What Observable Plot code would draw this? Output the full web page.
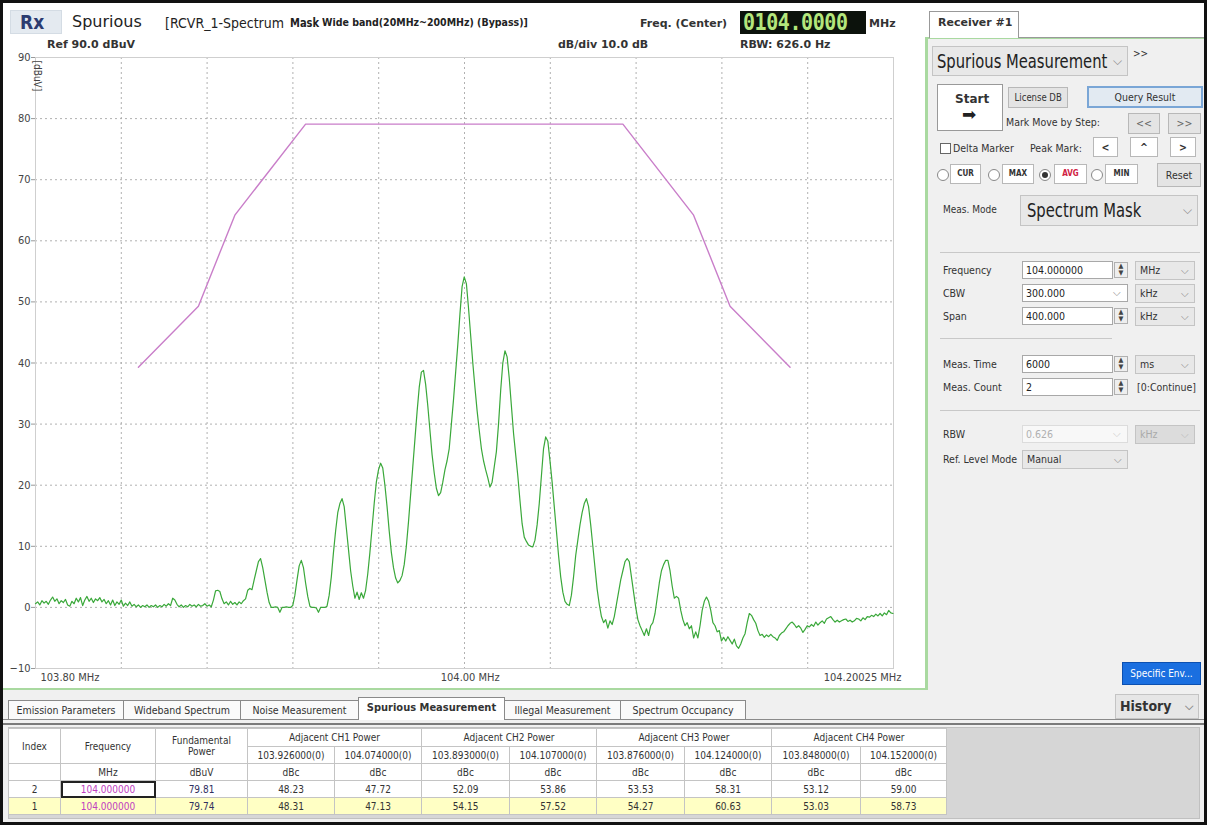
<!DOCTYPE html>
<html><head><meta charset="utf-8">
<script src="https://cdn.jsdelivr.net/npm/d3@7"></script>
<script src="https://cdn.jsdelivr.net/npm/@observablehq/plot@0.6"></script>
<style>
html,body{margin:0;padding:0;}
body{width:1207px;height:825px;position:relative;overflow:hidden;background:#fff;font-family:"DejaVu Sans Condensed","DejaVu Sans","Liberation Sans",sans-serif;color:#222;}
.a{position:absolute;white-space:nowrap;}
.dj{font-family:"DejaVu Sans","Liberation Sans",sans-serif;}
.btn{position:absolute;box-sizing:border-box;border:1px solid #b8b8b8;background:#e4e4e4;font-size:10.5px;text-align:center;color:#333;white-space:nowrap;}
.inp{position:absolute;box-sizing:border-box;border:1px solid #a8a8a8;background:#fff;font-size:10.5px;padding-left:3px;color:#222;white-space:nowrap;}
.dd{position:absolute;box-sizing:border-box;border:1px solid #c4c4c4;background:#e8e8e8;font-size:10.5px;padding-left:4px;color:#333;white-space:nowrap;overflow:hidden;}
.lbl{position:absolute;font-size:10.5px;color:#333;white-space:nowrap;}
.chev{position:absolute;right:5px;color:#888;font-size:10px;}
.spin{position:absolute;box-sizing:border-box;width:14px;border:1px solid #b0b0b0;background:#eee;font-size:7px;line-height:7px;text-align:center;color:#444;}
.sep{position:absolute;height:1px;background:#c8c8c8;}
.tab{position:absolute;top:700px;height:19px;box-sizing:border-box;border:1px solid #8a8a8a;border-bottom:none;background:#fafafa;font-size:10.5px;text-align:center;line-height:18px;color:#333;white-space:nowrap;}
.narrow{display:inline-block;transform-origin:0 50%;}
table{border-collapse:collapse;font-size:10px;}
td{border:1px solid #c4c4c4;text-align:center;padding:0;color:#333;background:#fff;white-space:nowrap;overflow:hidden;}
#frame{position:absolute;left:0;top:0;width:1207px;height:825px;box-sizing:border-box;border:3px solid #111;pointer-events:none;z-index:50;}
</style></head>
<body>
<!-- backgrounds -->
<div class="a" style="left:928px;top:37px;width:277px;height:653px;background:#f0f0f0;"></div>
<div class="a" style="left:0;top:690px;width:1207px;height:135px;background:#f0f0f0;"></div>
<div class="a" style="left:3px;top:688px;width:922px;height:2px;background:#a9d9a0;"></div>
<div class="a" style="left:925px;top:37px;width:3px;height:653px;background:#a9d9a0;"></div>
<div class="a" style="left:925px;top:37px;width:280px;height:2px;background:#a9d9a0;"></div>

<div id="plot" class="a" style="left:0;top:0;"></div>

<!-- header -->
<div class="a" style="left:10px;top:10px;width:52px;height:24px;background:#e4eaf0;border:1px solid #d4dce4;box-sizing:border-box;"></div>
<div class="a" style="left:20px;top:11px;font-size:19px;font-weight:bold;color:#2c3c70;">Rx</div>
<div class="a dj" style="left:72px;top:12px;font-size:16px;color:#222;">Spurious</div>
<div class="a" style="left:165px;top:15px;font-size:14px;color:#222;">[RCVR_1-Spectrum</div>
<div class="a" style="left:290px;top:15px;font-size:13px;color:#222;font-weight:bold;"><span class="narrow" style="transform:scaleX(0.85);">Mask</span></div>
<div class="a dj" style="left:322px;top:16px;font-size:10.5px;color:#222;font-weight:bold;"><span class="narrow" style="transform:scaleX(0.9);">Wide band(20MHz~200MHz) (Bypass)]</span></div>
<div class="a dj" style="left:640px;top:17px;font-size:11px;font-weight:bold;color:#333;">Freq. (Center)</div>
<div class="a" style="left:740px;top:11px;width:126px;height:23px;background:#0c120c;"></div>
<div class="a" style="left:743px;top:9px;font-family:'DejaVu Sans Mono',monospace;font-size:23px;font-weight:bold;color:#b4e67c;"><span class="narrow" style="transform:scaleX(0.87);letter-spacing:-0.5px;">0104.0000</span></div>
<div class="a dj" style="left:869px;top:17px;font-size:11px;font-weight:bold;color:#333;">MHz</div>
<div class="a dj" style="left:47px;top:38px;font-size:11px;font-weight:bold;color:#333;">Ref 90.0 dBuV</div>
<div class="a dj" style="left:558px;top:38px;font-size:11px;font-weight:bold;color:#333;">dB/div 10.0 dB</div>
<div class="a dj" style="left:740px;top:38px;font-size:11px;font-weight:bold;color:#333;">RBW: 626.0 Hz</div>

<!-- right panel -->
<div class="a" style="left:929px;top:11px;width:90px;height:27px;box-sizing:border-box;border:1px solid #999;border-bottom:none;background:#fff;"></div>
<div class="a dj" style="left:938px;top:16px;font-size:11px;font-weight:bold;color:#333;">Receiver #1</div>
<div class="a" style="left:1019px;top:37px;width:186px;height:1px;background:#999;"></div>

<div class="dd" style="left:932px;top:46px;width:196px;height:30px;font-size:20px;line-height:28px;color:#222;"><span class="narrow" style="transform:scaleX(0.82);">Spurious Measurement</span><span class="chev" style="top:0px;font-size:12px;">&#x2335;</span></div>
<div class="lbl" style="left:1133px;top:48px;font-size:10px;">&gt;&gt;</div>

<div class="btn" style="left:937px;top:84px;width:66px;height:47px;background:#fff;border-color:#999;"></div>
<div class="a dj" style="left:955px;top:92px;font-size:12px;font-weight:bold;color:#333;">Start</div>
<div class="a dj" style="left:962px;top:104px;font-size:17px;color:#222;">&#x27A1;</div>
<div class="btn" style="left:1008px;top:87px;width:60px;height:21px;line-height:19px;"><span class="narrow" style="transform:scaleX(0.9);transform-origin:50% 50%;">License DB</span></div>
<div class="btn" style="left:1087px;top:86px;width:116px;height:22px;line-height:18px;background:#e2eaf2;border:2px solid #7aa6d6;">Query Result</div>
<div class="lbl" style="left:1006px;top:116px;">Mark Move by Step:</div>
<div class="btn" style="left:1128px;top:113px;width:32px;height:21px;line-height:19px;color:#666;">&lt;&lt;</div>
<div class="btn" style="left:1168px;top:113px;width:33px;height:21px;line-height:19px;color:#666;">&gt;&gt;</div>

<div class="a" style="left:940px;top:143px;width:11px;height:11px;border:1px solid #666;background:#fff;box-sizing:border-box;"></div>
<div class="lbl" style="left:953px;top:142px;">Delta Marker</div>
<div class="lbl" style="left:1030px;top:142px;">Peak Mark:</div>
<div class="btn" style="left:1093px;top:137px;width:25px;height:20px;line-height:18px;background:#fff;font-weight:bold;">&lt;</div>
<div class="btn" style="left:1130px;top:137px;width:28px;height:20px;line-height:18px;background:#fff;font-weight:bold;">^</div>
<div class="btn" style="left:1170px;top:137px;width:26px;height:20px;line-height:18px;background:#fff;font-weight:bold;">&gt;</div>

<div class="a" style="left:937px;top:169px;width:12px;height:12px;border:1px solid #888;border-radius:50%;background:#fff;box-sizing:border-box;"></div>
<div class="btn" style="left:950px;top:164px;width:31px;height:20px;line-height:18px;background:#fff;font-size:8px;font-weight:bold;">CUR</div>
<div class="a" style="left:988px;top:169px;width:12px;height:12px;border:1px solid #888;border-radius:50%;background:#fff;box-sizing:border-box;"></div>
<div class="btn" style="left:1002px;top:164px;width:32px;height:20px;line-height:18px;background:#fff;font-size:8px;font-weight:bold;">MAX</div>
<div class="a" style="left:1039px;top:169px;width:12px;height:12px;border:1px solid #888;border-radius:50%;background:#fff;box-sizing:border-box;"></div>
<div class="a" style="left:1042px;top:172px;width:6px;height:6px;border-radius:50%;background:#333;"></div>
<div class="btn" style="left:1054px;top:164px;width:33px;height:20px;line-height:18px;background:#fff;font-size:8px;font-weight:bold;color:#d02040;">AVG</div>
<div class="a" style="left:1091px;top:169px;width:12px;height:12px;border:1px solid #888;border-radius:50%;background:#fff;box-sizing:border-box;"></div>
<div class="btn" style="left:1105px;top:164px;width:33px;height:20px;line-height:18px;background:#fff;font-size:8px;font-weight:bold;">MIN</div>
<div class="btn" style="left:1157px;top:163px;width:44px;height:24px;line-height:22px;">Reset</div>

<div class="lbl" style="left:943px;top:204px;font-size:10px;">Meas. Mode</div>
<div class="dd" style="left:1020px;top:195px;width:178px;height:31px;font-size:20px;line-height:29px;color:#222;padding-left:6px;"><span class="narrow" style="transform:scaleX(0.82);">Spectrum Mask</span><span class="chev" style="top:0px;font-size:12px;">&#x2335;</span></div>
<div class="sep" style="left:940px;top:252px;width:260px;"></div>

<div class="lbl" style="left:943px;top:264px;">Frequency</div>
<div class="inp" style="left:1022px;top:261px;width:91px;height:18px;line-height:16px;">104.000000</div>
<div class="spin" style="left:1114px;top:262px;height:16px;">&#9650;<br>&#9660;</div>
<div class="dd" style="left:1135px;top:261px;width:60px;height:19px;line-height:17px;">MHz<span class="chev">&#x2335;</span></div>
<div class="lbl" style="left:943px;top:287px;">CBW</div>
<div class="inp" style="left:1022px;top:284px;width:106px;height:18px;line-height:16px;">300.000<span class="chev" style="right:6px;">&#x2335;</span></div>
<div class="dd" style="left:1135px;top:284px;width:60px;height:19px;line-height:17px;">kHz<span class="chev">&#x2335;</span></div>
<div class="lbl" style="left:943px;top:310px;">Span</div>
<div class="inp" style="left:1022px;top:307px;width:91px;height:18px;line-height:16px;">400.000</div>
<div class="spin" style="left:1114px;top:308px;height:16px;">&#9650;<br>&#9660;</div>
<div class="dd" style="left:1135px;top:307px;width:60px;height:19px;line-height:17px;">kHz<span class="chev">&#x2335;</span></div>
<div class="sep" style="left:940px;top:338px;width:172px;"></div>

<div class="lbl" style="left:943px;top:358px;">Meas. Time</div>
<div class="inp" style="left:1022px;top:355px;width:91px;height:18px;line-height:16px;">6000</div>
<div class="spin" style="left:1114px;top:356px;height:16px;">&#9650;<br>&#9660;</div>
<div class="dd" style="left:1135px;top:355px;width:60px;height:19px;line-height:17px;">ms<span class="chev">&#x2335;</span></div>
<div class="lbl" style="left:943px;top:381px;">Meas. Count</div>
<div class="inp" style="left:1022px;top:378px;width:91px;height:18px;line-height:16px;">2</div>
<div class="spin" style="left:1114px;top:379px;height:16px;">&#9650;<br>&#9660;</div>
<div class="lbl" style="left:1137px;top:381px;">[0:Continue]</div>
<div class="sep" style="left:940px;top:410px;width:260px;"></div>

<div class="lbl" style="left:943px;top:428px;">RBW</div>
<div class="inp" style="left:1022px;top:425px;width:106px;height:18px;line-height:16px;color:#b0b0b0;border-color:#dcdcdc;background:#f8f8f8;">0.626<span class="chev" style="right:6px;color:#ccc;">&#x2335;</span></div>
<div class="dd" style="left:1135px;top:425px;width:60px;height:19px;line-height:17px;color:#aaa;background:#dcdcdc;">kHz<span class="chev" style="color:#bbb;">&#x2335;</span></div>
<div class="lbl" style="left:943px;top:453px;">Ref. Level Mode</div>
<div class="dd" style="left:1022px;top:450px;width:106px;height:19px;line-height:17px;">Manual<span class="chev">&#x2335;</span></div>

<div class="btn" style="left:1122px;top:662px;width:79px;height:23px;line-height:21px;background:#1a6fe0;border-color:#0c50b0;color:#fff;font-size:10px;">Specific Env...</div>

<!-- bottom tabs -->
<div class="tab" style="left:8px;width:116px;">Emission Parameters</div>
<div class="tab" style="left:123px;width:118px;">Wideband Spectrum</div>
<div class="tab" style="left:240px;width:119px;">Noise Measurement</div>
<div class="tab" style="left:358px;top:697px;height:23px;width:147px;background:#fff;font-weight:bold;line-height:20px;font-size:11px;">Spurious Measurement</div>
<div class="tab" style="left:504px;width:117px;">Illegal Measurement</div>
<div class="tab" style="left:620px;width:126px;">Spectrum Occupancy</div>
<div class="a" style="left:3px;top:719px;width:355px;height:1px;background:#8a8a8a;"></div>
<div class="a" style="left:505px;top:719px;width:699px;height:1px;background:#8a8a8a;"></div>
<div class="a" style="left:3px;top:723px;width:1201px;height:2px;background:#7a7a7a;"></div>
<div class="dd" style="left:1115px;top:694px;width:84px;height:25px;line-height:23px;font-size:14px;font-weight:bold;background:#e6e6e6;">History<span class="chev" style="font-size:11px;">&#x2335;</span></div>

<!-- table -->
<div class="a" style="left:8px;top:727px;width:1192px;height:92px;background:#d6d6d6;border:1px solid #c0c0c0;box-sizing:border-box;"></div>
<div id="tbl" class="a" style="left:8px;top:728px;"></div>

<div id="frame"></div>

<script>
// ---------------- data ----------------
const yTicks = [-10, 0, 10, 20, 30, 40, 50, 60, 70, 80, 90];
const xGridTicks = [103.8, 103.840025, 103.88005, 103.920075, 103.9601, 104.000125, 104.04015, 104.080175, 104.1202, 104.160225, 104.20025];
const xTickValues = [103.8, 104.0, 104.20025];
const xTickLabels = ["103.80 MHz", "104.00 MHz", "104.20025 MHz"];

// spectrum mask (MHz, dBuV)
const maskFreq  = [103.848, 103.876, 103.893, 103.926, 104.074, 104.107, 104.124, 104.152];
const maskLevel = [39.3, 49.3, 64.2, 79.1, 79.1, 64.2, 49.3, 39.3];

// measured trace (MHz, dBuV)
const trace = [
[103.800,0.6],[103.801,0.9],[103.802,0.4],[103.803,1.1],[103.804,0.7],[103.805,1.0],[103.806,0.5],[103.807,1.2],[103.808,1.7],[103.809,1.0],
[103.810,1.4],[103.811,0.6],[103.812,1.1],[103.813,0.8],[103.814,1.3],[103.815,0.4],[103.816,0.2],[103.817,1.0],[103.818,0.6],[103.819,1.5],
[103.820,0.9],[103.821,1.6],[103.822,0.3],[103.823,1.2],[103.824,1.8],[103.825,1.0],[103.826,1.5],[103.827,0.8],[103.828,1.4],[103.829,1.1],
[103.830,1.6],[103.831,0.9],[103.832,1.3],[103.833,0.6],[103.834,1.1],[103.835,0.4],[103.836,1.2],[103.837,0.3],[103.838,0.9],[103.839,0.5],
[103.840,1.2],[103.841,0.2],[103.842,0.7],[103.843,0.3],[103.844,0.9],[103.845,0.2],[103.846,0.5],[103.847,0.1],[103.848,0.4],[103.849,0.0],
[103.850,0.3],[103.851,0.1],[103.852,0.4],[103.853,0.0],[103.854,0.3],[103.855,0.1],[103.856,0.4],[103.857,0.0],[103.858,0.3],[103.859,0.1],
[103.860,0.5],[103.861,0.2],[103.862,0.6],[103.863,0.3],[103.864,1.5],[103.865,1.2],[103.866,0.5],[103.867,0.1],[103.868,0.4],[103.869,0.0],
[103.870,0.3],[103.871,0.1],[103.872,0.5],[103.873,0.2],[103.874,0.4],[103.875,0.1],[103.876,0.5],[103.877,0.2],[103.878,0.3],[103.879,0.6],
[103.880,0.2],[103.881,0.4],[103.882,0.1],[103.883,1.2],[103.884,2.7],[103.885,2.8],[103.886,2.6],[103.887,1.4],[103.888,0.6],[103.889,0.9],
[103.890,0.4],[103.891,1.0],[103.892,0.5],[103.893,0.8],[103.894,0.4],[103.895,0.9],[103.896,0.6],[103.897,1.1],[103.898,1.4],[103.899,2.8],
[103.900,3.1],[103.901,2.9],[103.902,4.5],[103.903,6.0],[103.904,7.5],[103.905,8.0],[103.906,6.5],[103.907,4.5],[103.908,2.5],[103.909,0.8],
[103.910,0.0],[103.911,0.0],[103.912,0.1],[103.913,0.0],[103.914,-0.8],[103.915,0.0],[103.916,0.0],[103.917,0.1],[103.918,0.0],[103.919,0.0],
[103.920,0.3],[103.921,2.0],[103.922,4.5],[103.923,6.8],[103.924,7.7],[103.925,6.5],[103.926,4.0],[103.927,1.8],[103.928,0.2],[103.929,0.0],
[103.930,0.0],[103.931,-0.1],[103.932,-0.8],[103.933,0.0],[103.934,0.0],[103.935,0.0],[103.936,0.2],[103.937,2.0],[103.938,5.0],[103.939,9.0],
[103.940,12.5],[103.941,15.5],[103.942,17.0],[103.943,17.8],[103.944,16.5],[103.945,13.0],[103.946,9.5],[103.947,6.0],[103.948,3.5],[103.949,1.5],
[103.950,2.5],[103.951,1.3],[103.952,2.4],[103.953,1.5],[103.954,2.8],[103.955,5.5],[103.956,9.0],[103.957,13.0],[103.958,17.0],[103.959,20.5],
[103.960,22.5],[103.961,23.6],[103.962,22.8],[103.963,20.0],[103.964,16.5],[103.965,12.5],[103.966,9.0],[103.967,6.5],[103.968,4.8],[103.969,4.0],
[103.970,4.4],[103.971,5.2],[103.972,7.0],[103.973,10.0],[103.974,14.0],[103.975,18.5],[103.976,23.0],[103.977,27.5],[103.978,32.0],[103.979,36.0],
[103.980,38.5],[103.981,38.8],[103.982,36.5],[103.983,33.0],[103.984,29.0],[103.985,25.0],[103.986,22.0],[103.987,19.5],[103.988,18.3],[103.989,18.8],
[103.990,20.5],[103.991,22.5],[103.992,24.0],[103.993,26.0],[103.994,30.0],[103.995,34.0],[103.996,38.5],[103.997,43.0],[103.998,48.0],[103.999,52.5],
[104.000,54.1],[104.001,53.0],[104.002,49.0],[104.003,44.5],[104.004,40.0],[104.005,36.0],[104.006,32.2],[104.007,29.0],[104.008,26.0],[104.009,24.0],
[104.010,22.5],[104.011,21.2],[104.012,19.7],[104.013,20.5],[104.014,23.0],[104.015,25.5],[104.016,30.0],[104.017,35.5],[104.018,40.0],[104.019,42.0],
[104.020,41.0],[104.021,37.5],[104.022,33.0],[104.023,28.5],[104.024,25.0],[104.025,21.5],[104.026,17.5],[104.027,13.7],[104.028,11.5],[104.029,10.8],
[104.030,10.2],[104.031,10.0],[104.032,9.9],[104.033,11.0],[104.034,13.5],[104.035,17.0],[104.036,21.5],[104.037,26.0],[104.038,27.9],[104.039,27.2],
[104.040,24.0],[104.041,20.5],[104.042,16.5],[104.043,12.5],[104.044,8.5],[104.045,5.0],[104.046,2.5],[104.047,1.0],[104.048,0.5],[104.049,0.3],
[104.050,2.0],[104.051,5.0],[104.052,8.5],[104.053,11.0],[104.054,13.5],[104.055,15.5],[104.056,17.0],[104.057,17.8],[104.058,16.5],[104.059,13.5],
[104.060,10.0],[104.061,6.5],[104.062,3.0],[104.063,0.5],[104.064,-1.5],[104.065,-2.5],[104.066,-2.0],[104.067,-3.4],[104.068,-2.2],[104.069,-2.8],
[104.070,-1.5],[104.071,0.5],[104.072,2.5],[104.073,4.5],[104.074,6.0],[104.075,7.5],[104.076,8.0],[104.077,7.5],[104.078,5.0],[104.079,2.5],
[104.080,0.0],[104.081,-2.0],[104.082,-3.0],[104.083,-3.8],[104.084,-4.6],[104.085,-3.5],[104.086,-4.6],[104.087,-3.0],[104.088,-2.5],[104.089,-1.0],
[104.090,1.5],[104.091,4.0],[104.092,6.0],[104.093,7.0],[104.094,7.7],[104.095,7.7],[104.096,6.0],[104.097,3.5],[104.098,1.5],[104.099,1.8],
[104.100,1.5],[104.101,-0.5],[104.102,-2.0],[104.103,-3.0],[104.104,-2.5],[104.105,-3.5],[104.106,-3.0],[104.107,-5.0],[104.108,-4.0],[104.109,-5.0],
[104.110,-3.0],[104.111,-0.5],[104.112,1.0],[104.113,1.7],[104.114,1.0],[104.115,-0.5],[104.116,-2.5],[104.117,-3.0],[104.118,-4.0],[104.119,-3.8],
[104.120,-5.5],[104.121,-4.9],[104.122,-5.5],[104.123,-4.8],[104.124,-5.4],[104.125,-6.0],[104.126,-5.2],[104.127,-6.3],[104.128,-6.7],[104.129,-6.0],
[104.130,-5.0],[104.131,-4.3],[104.132,-2.5],[104.133,-1.0],[104.134,-1.3],[104.135,-2.0],[104.136,-2.6],[104.137,-3.8],[104.138,-4.6],[104.139,-4.4],
[104.140,-4.9],[104.141,-4.5],[104.142,-4.8],[104.143,-4.4],[104.144,-4.8],[104.145,-5.0],[104.146,-5.4],[104.147,-4.6],[104.148,-4.2],[104.149,-4.0],
[104.150,-3.5],[104.151,-3.0],[104.152,-2.6],[104.153,-2.4],[104.154,-2.8],[104.155,-3.3],[104.156,-3.0],[104.157,-3.4],[104.158,-4.1],[104.159,-3.6],
[104.160,-3.0],[104.161,-3.2],[104.162,-2.8],[104.163,-3.1],[104.164,-2.4],[104.165,-2.9],[104.166,-2.5],[104.167,-2.2],[104.168,-2.6],[104.169,-1.9],
[104.170,-1.7],[104.171,-1.5],[104.172,-2.0],[104.173,-2.4],[104.174,-2.1],[104.175,-2.4],[104.176,-2.2],[104.177,-2.0],[104.178,-1.9],[104.179,-2.3],
[104.180,-2.1],[104.181,-2.4],[104.182,-2.2],[104.183,-1.8],[104.184,-1.9],[104.185,-2.2],[104.186,-1.7],[104.187,-2.0],[104.188,-1.5],[104.189,-1.6],
[104.190,-1.3],[104.191,-1.5],[104.192,-1.1],[104.193,-1.4],[104.194,-1.0],[104.195,-1.4],[104.196,-0.9],[104.197,-1.2],[104.198,-0.5],[104.199,-0.9],
[104.200,-1.0]
];

// results table
const tableIndex = ["2", "1"];
const tableFreq = ["104.000000", "104.000000"];
const tableFund = ["79.81", "79.74"];
const adjNames = ["Adjacent CH1 Power", "Adjacent CH2 Power", "Adjacent CH3 Power", "Adjacent CH4 Power"];
const adjFreqs = ["103.926000(0)", "104.074000(0)", "103.893000(0)", "104.107000(0)", "103.876000(0)", "104.124000(0)", "103.848000(0)", "104.152000(0)"];
const adjRow2 = ["48.23", "47.72", "52.09", "53.86", "53.53", "58.31", "53.12", "59.00"];
const adjRow1 = ["48.31", "47.13", "54.15", "57.52", "54.27", "60.63", "53.03", "58.73"];

// ---------------- chart ----------------
const maskData = maskFreq.map((f, i) => ({f, v: maskLevel[i]}));
const font = "'DejaVu Sans Condensed','DejaVu Sans',sans-serif";
const chart = Plot.plot({
  width: 925, height: 690,
  marginLeft: 35, marginRight: 32, marginTop: 57, marginBottom: 22,
  x: {domain: [103.8, 104.20025], axis: null},
  y: {domain: [-10, 90], axis: null},
  style: {background: "transparent", fontFamily: font, fontSize: "11px", color: "#444", overflow: "visible"},
  marks: [
    Plot.gridX(xGridTicks, {stroke: "#a8a8a8", strokeOpacity: 0.9, strokeDasharray: "2,3"}),
    Plot.gridY(yTicks, {stroke: "#a8a8a8", strokeOpacity: 0.9, strokeDasharray: "2,3"}),
    Plot.frame({stroke: "#cfcfcf"}),
    Plot.axisY(yTicks, {anchor: "left", tickSize: 4, tickPadding: 1, label: null, stroke: "#999", fill: "#444", fontSize: 11}),
    Plot.text(["[dBuV]"], {frameAnchor: "top-left", dx: 6, dy: 3, rotate: 90, textAnchor: "start", fill: "#444", fontSize: 10}),
    Plot.text([0], {x: i => xTickValues[i], text: i => xTickLabels[i], frameAnchor: "bottom", dy: 12, dx: 5, textAnchor: "start", fill: "#444", fontSize: 11}),
    Plot.text([1], {x: i => xTickValues[i], text: i => xTickLabels[i], frameAnchor: "bottom", dy: 12, dx: 6, textAnchor: "middle", fill: "#444", fontSize: 11}),
    Plot.text([2], {x: i => xTickValues[i], text: i => xTickLabels[i], frameAnchor: "bottom", dy: 12, dx: 8, textAnchor: "end", fill: "#444", fontSize: 11}),
    Plot.line(maskData, {x: "f", y: "v", stroke: "#c97ec9", strokeWidth: 1.4}),
    Plot.line(trace, {x: d => d[0], y: d => d[1], stroke: "#3aa83a", strokeWidth: 1.2})
  ]
});
document.getElementById("plot").appendChild(chart);

// ---------------- table ----------------
const w = [52, 95, 92, 87, 87, 88, 87, 88, 87, 89, 86];
let html = '<table style="table-layout:fixed;"><colgroup>' + w.map(x => `<col style="width:${x}px">`).join("") + '</colgroup>';
html += '<tr style="height:18px"><td rowspan="2">Index</td><td rowspan="2">Frequency</td><td rowspan="2" style="line-height:11px">Fundamental<br>Power</td>' +
  adjNames.map(n => `<td colspan="2">${n}</td>`).join("") + '</tr>';
html += '<tr style="height:17px">' + adjFreqs.map(f => `<td>${f}</td>`).join("") + '</tr>';
html += '<tr style="height:17px"><td></td><td>MHz</td><td>dBuV</td>' + adjFreqs.map(() => '<td>dBc</td>').join("") + '</tr>';
const rows = [adjRow2, adjRow1];
rows.forEach((r, i) => {
  const bg = i === 1 ? "background:#ffffc4;" : "";
  const fb = i === 0 ? "outline:2px solid #222;outline-offset:-2px;" : "";
  html += `<tr style="height:17px"><td style="${bg}">${tableIndex[i]}</td><td style="${bg}${fb}color:#c040c0;">${tableFreq[i]}</td><td style="${bg}color:#303060;">${tableFund[i]}</td>` +
    r.map(v => `<td style="${bg}">${v}</td>`).join("") + '</tr>';
});
html += '</table>';
document.getElementById("tbl").innerHTML = html;
</script>
</body></html>
